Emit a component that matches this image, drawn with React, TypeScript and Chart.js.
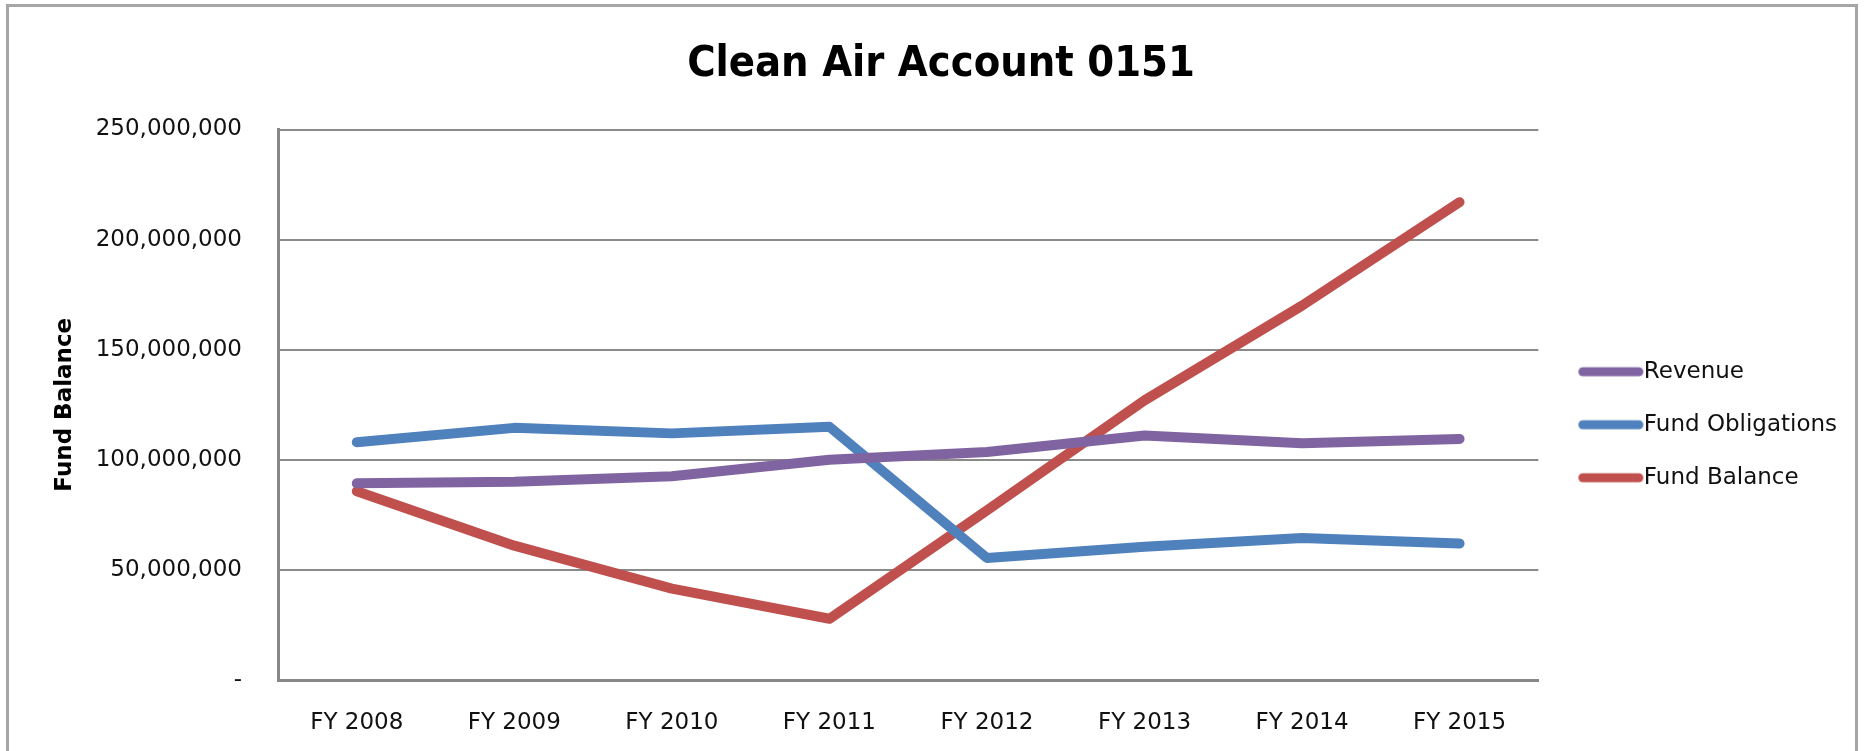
import React, { useEffect, useRef } from 'react';
import { Chart, registerables } from 'chart.js';

Chart.register(...registerables);

const categories = ['FY 2008', 'FY 2009', 'FY 2010', 'FY 2011', 'FY 2012', 'FY 2013', 'FY 2014', 'FY 2015'];
const revenue = [89300000, 90000000, 92500000, 100000000, 103500000, 111000000, 107500000, 109500000];
const fundObligations = [108000000, 114500000, 112000000, 115000000, 55400000, 60500000, 64500000, 62000000];
const fundBalance = [85700000, 61000000, 41500000, 27800000, 77000000, 127000000, 170000000, 217000000];
const seriesNames = ['Revenue', 'Fund Obligations', 'Fund Balance'];
const seriesColors = ['#8064A2', '#4F81BD', '#C0504D'];
const yMin = 0;
const yMax = 250000000;
const yStep = 50000000;

const LABEL_FONT = 'DejaVu Sans';

function makeSample(color: string): HTMLCanvasElement {
  const c = document.createElement('canvas');
  c.width = 88;
  c.height = 12;
  const g = c.getContext('2d')!;
  g.strokeStyle = color;
  g.lineWidth = 9;
  g.lineCap = 'round';
  g.beginPath();
  g.moveTo(26.5, 6);
  g.lineTo(82.5, 6);
  g.stroke();
  return c;
}

export default function App() {
  const canvasRef = useRef<HTMLCanvasElement | null>(null);

  useEffect(() => {
    document.body.style.margin = '0';
    const canvas = canvasRef.current;
    if (!canvas) return;
    const seriesData = [revenue, fundObligations, fundBalance];
    const chart = new Chart(canvas, {
      type: 'line',
      data: {
        labels: categories,
        datasets: seriesNames.map((name, i) => ({
          label: name,
          data: seriesData[i],
          borderColor: seriesColors[i],
          backgroundColor: seriesColors[i],
          borderWidth: 10,
          borderCapStyle: 'round',
          borderJoinStyle: 'round',
          pointRadius: 0,
          pointHoverRadius: 0,
          pointStyle: makeSample(seriesColors[i]),
          tension: 0,
          fill: false,
        })),
      },
      options: {
        responsive: false,
        animation: false,
        devicePixelRatio: 1,
        events: [],
        layout: { padding: { left: 35, right: 20.9, top: 0, bottom: 0 } },
        plugins: {
          title: {
            display: true,
            text: 'Clean Air Account 0151',
            color: '#000',
            font: {
              family: "'Liberation Sans Narrow', 'DejaVu Sans Condensed', sans-serif",
              size: 43,
              weight: 'bold',
              lineHeight: 1.2,
            },
            padding: { top: 39, bottom: 38.9 },
          },
          legend: {
            display: true,
            position: 'right',
            align: 'center',
            fullSize: false,
            title: {
              display: true,
              text: '',
              font: { size: 1, lineHeight: 1 },
              padding: { top: 38.9, bottom: 0 },
            },
            labels: {
              usePointStyle: true,
              pointStyleWidth: 64,
              padding: 30,
              color: '#111',
              font: { family: LABEL_FONT, size: 23 },
            },
          },
          tooltip: { enabled: false },
        },
        scales: {
          x: {
            type: 'category',
            offset: true,
            grid: { display: false },
            border: { display: true, color: '#878787', width: 3 },
            ticks: {
              color: '#111',
              font: { family: LABEL_FONT, size: 23 },
              padding: 21,
              maxRotation: 0,
              autoSkip: false,
            },
            afterFit: (s: any) => {
              s.height = 71;
            },
          },
          y: {
            min: yMin,
            max: yMax,
            grid: { color: '#8a8a8a', lineWidth: 2, drawTicks: false },
            border: { display: true, color: '#878787', width: 3 },
            ticks: {
              stepSize: yStep,
              color: '#111',
              font: { family: LABEL_FONT, size: 23 },
              padding: 36,
              callback: (v: any) => (Number(v) === 0 ? '-' : Number(v).toLocaleString('en-US')),
            },
            title: {
              display: true,
              text: 'Fund Balance',
              color: '#000',
              font: { family: LABEL_FONT, size: 23, weight: 'bold', lineHeight: 1.2 },
              padding: { top: 16.2, bottom: 0 },
            },
            afterFit: (s: any) => {
              s.width = 243;
            },
          },
        },
      },
    } as any);
    return () => chart.destroy();
  }, []);

  return (
    <div style={{ position: 'absolute', left: 0, top: 0, width: 1868, height: 751, background: '#fff', overflow: 'hidden' }}>
      <div
        style={{
          position: 'absolute',
          left: 6,
          top: 4,
          width: 1852,
          height: 760,
          borderLeft: '3px solid #a6a6a6',
          borderTop: '3px solid #a6a6a6',
          borderRight: '3px solid #a6a6a6',
          boxSizing: 'border-box',
        }}
      />
      <canvas ref={canvasRef} width={1868} height={751} style={{ position: 'absolute', left: 0, top: 0, width: 1868, height: 751 }} />
    </div>
  );
}
